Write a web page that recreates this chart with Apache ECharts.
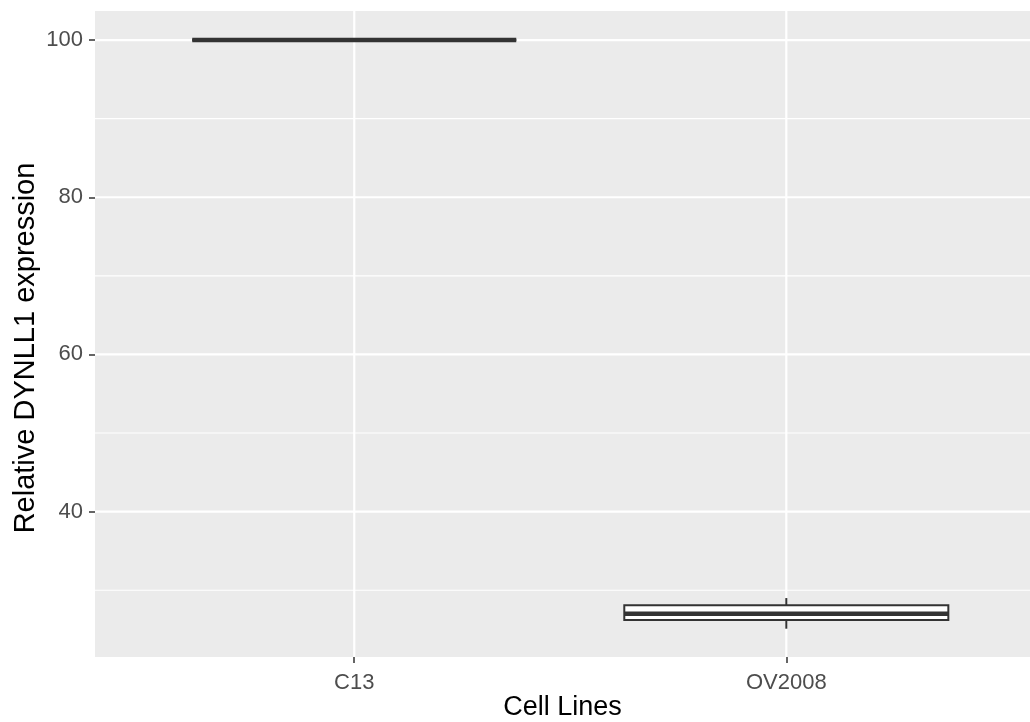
<!DOCTYPE html>
<html>
<head>
<meta charset="utf-8">
<script src="https://cdn.jsdelivr.net/npm/echarts@6/dist/echarts.min.js"></script>
<style>
  html, body { margin: 0; padding: 0; background: #fff; }
  #chart { width: 1030px; height: 722px; }
</style>
</head>
<body>
<div id="chart"></div>
<script>
// ---- Data ----
const categories = ['C13', 'OV2008'];
// [min, Q1, median, Q3, max]
const boxMin    = [100, 25.1];
const boxQ1     = [100, 26.2];
const boxMedian = [100, 27.0];
const boxQ3     = [100, 28.1];
const boxMax    = [100, 29.0];
const yMajorTicks = [40, 60, 80, 100];
const yMinorTicks = [30, 50, 70, 90];
const xTickPositions = [1, 2];

// ---- Build series data ----
const boxData = categories.map((c, i) => [i + 1, boxMin[i], boxQ1[i], boxMedian[i], boxQ3[i], boxMax[i]]);
const hGridData = yMajorTicks.map(v => [v, 1]).concat(yMinorTicks.map(v => [v, 0]));
const vGridData = xTickPositions.map(v => [v]);

const chart = echarts.init(document.getElementById('chart'), null, { renderer: 'canvas' });
const LINE = '#333333';
const FONT = 'Liberation Sans, Arial, Helvetica, sans-serif';

const option = {
  animation: false,
  backgroundColor: '#ffffff',
  grid: {
    left: 95, top: 11, right: 0, height: 646,
    show: true, backgroundColor: '#EBEBEB', borderWidth: 0,
    containLabel: false,
    outerBoundsMode: 'none'
  },
  xAxis: {
    type: 'value', min: 0.4, max: 2.564,
    name: 'Cell Lines', nameLocation: 'middle', nameGap: 37, nameMoveOverlap: false,
    nameTextStyle: { fontSize: 27, color: '#000', fontFamily: FONT },
    axisLine: { show: false },
    axisTick: { show: true, customValues: xTickPositions, length: 6, lineStyle: { color: LINE, width: 1.5 } },
    axisLabel: {
      customValues: xTickPositions, fontSize: 22, color: '#4D4D4D', fontFamily: FONT, margin: 15,
      formatter: v => categories[Math.round(v) - 1] || ''
    },
    splitLine: { show: false }
  },
  yAxis: {
    type: 'value', min: 21.5, max: 103.7,
    name: 'Relative DYNLL1 expression', nameLocation: 'middle', nameGap: 55, nameMoveOverlap: false,
    nameTextStyle: { fontSize: 29, color: '#000', fontFamily: FONT, padding: [0, 28, 0, 0] },
    axisLine: { show: false },
    axisTick: { show: true, customValues: yMajorTicks, length: 6, lineStyle: { color: LINE, width: 1.5 } },
    axisLabel: { customValues: yMajorTicks, fontSize: 22, color: '#4D4D4D', fontFamily: FONT, margin: 12 },
    splitLine: { show: false }
  },
  series: [
    {
      type: 'custom', name: 'hgrid', silent: true, z: 1,
      data: hGridData,
      encode: { y: 0 },
      renderItem: function (params, api) {
        const cs = params.coordSys;
        const y = api.coord([1, api.value(0)])[1];
        const major = api.value(1) === 1;
        return {
          type: 'line',
          shape: { x1: cs.x, y1: y, x2: cs.x + cs.width, y2: y },
          style: { stroke: '#ffffff', lineWidth: major ? 2.2 : 1.1 }
        };
      }
    },
    {
      type: 'custom', name: 'vgrid', silent: true, z: 1,
      data: vGridData,
      encode: { x: 0 },
      renderItem: function (params, api) {
        const cs = params.coordSys;
        const x = api.coord([api.value(0), 50])[0];
        return {
          type: 'line',
          shape: { x1: x, y1: cs.y, x2: x, y2: cs.y + cs.height },
          style: { stroke: '#ffffff', lineWidth: 2.2 }
        };
      }
    },
    {
      type: 'custom', name: 'box', z: 5,
      data: boxData,
      encode: { x: 0, y: [1, 2, 3, 4, 5] },
      renderItem: function (params, api) {
        const x = api.value(0);
        const half = 0.375;
        const pMin = api.coord([x, api.value(1)]);
        const pQ1 = api.coord([x, api.value(2)]);
        const pMed = api.coord([x, api.value(3)]);
        const pQ3 = api.coord([x, api.value(4)]);
        const pMax = api.coord([x, api.value(5)]);
        const xl = api.coord([x - half, api.value(3)])[0];
        const xr = api.coord([x + half, api.value(3)])[0];
        return {
          type: 'group',
          children: [
            { type: 'line', shape: { x1: pQ3[0], y1: pQ3[1], x2: pMax[0], y2: pMax[1] }, style: { stroke: LINE, lineWidth: 2 } },
            { type: 'line', shape: { x1: pQ1[0], y1: pQ1[1], x2: pMin[0], y2: pMin[1] }, style: { stroke: LINE, lineWidth: 2 } },
            { type: 'rect', shape: { x: xl, y: pQ3[1], width: xr - xl, height: pQ1[1] - pQ3[1] }, style: { fill: '#ffffff', stroke: LINE, lineWidth: 2 } },
            { type: 'line', shape: { x1: xl, y1: pMed[1], x2: xr, y2: pMed[1] }, style: { stroke: LINE, lineWidth: 4.5 } }
          ]
        };
      }
    }
  ]
};
chart.setOption(option);
</script>
</body>
</html>
